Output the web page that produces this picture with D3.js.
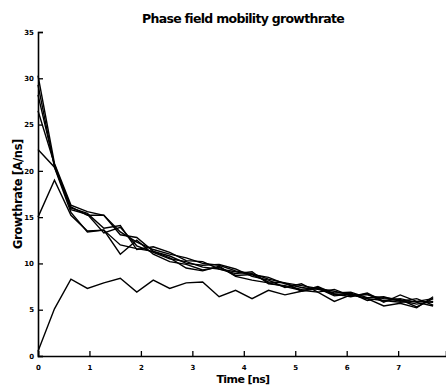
<!DOCTYPE html>
<html>
<head>
<meta charset="utf-8">
<script src="https://cdn.jsdelivr.net/npm/d3@7"></script>
<style>
  html, body { margin: 0; padding: 0; background: #fff; }
  svg { display: block; }
  text { font-family: "DejaVu Sans", sans-serif; fill: #000; }
</style>
</head>
<body>
<svg id="chart" width="446" height="385"></svg>
<script>
const times = [0, 0.32, 0.64, 0.96, 1.28, 1.6, 1.92, 2.24, 2.56, 2.88, 3.2, 3.52, 3.84, 4.16, 4.48, 4.8, 5.12, 5.44, 5.76, 6.08, 6.4, 6.72, 7.04, 7.36, 7.68];
const seriesA = [30.3, 20.8, 16.3, 15.6, 15.2, 13.4, 12.3, 11.5, 11.0, 10.6, 10.0, 9.8, 9.2, 8.9, 8.3, 7.9, 7.6, 7.3, 7.0, 6.6, 6.6, 6.2, 6.0, 5.6, 5.9];
const seriesB = [29.3, 20.4, 16.0, 15.4, 13.8, 14.1, 11.5, 11.8, 11.2, 10.3, 10.2, 9.4, 9.1, 8.8, 8.5, 7.8, 7.4, 7.2, 6.8, 6.9, 6.3, 6.4, 5.9, 6.2, 5.5];
const seriesC = [28.2, 20.6, 16.1, 15.2, 15.2, 13.1, 12.8, 11.3, 10.8, 10.0, 9.8, 9.9, 9.4, 8.6, 8.2, 7.4, 7.8, 6.9, 7.2, 6.5, 6.7, 5.8, 6.6, 5.9, 5.8];
const seriesD = [26.5, 20.7, 15.8, 15.3, 13.3, 13.9, 11.9, 11.2, 10.5, 10.2, 9.6, 9.4, 8.9, 9.1, 7.8, 7.6, 7.2, 7.4, 6.6, 6.8, 6.0, 6.3, 6.1, 5.3, 6.2];
const seriesE = [22.3, 20.4, 15.5, 13.4, 13.6, 11.0, 12.5, 11.0, 10.2, 9.9, 9.3, 9.6, 8.7, 8.8, 8.0, 7.9, 7.0, 7.5, 6.7, 6.4, 6.8, 5.9, 6.2, 5.8, 5.4];
const seriesF = [15.0, 19.0, 15.2, 13.5, 13.6, 12.0, 11.6, 11.3, 10.6, 9.5, 9.2, 9.7, 8.6, 8.2, 7.9, 7.5, 7.1, 6.9, 5.9, 6.6, 6.2, 5.4, 5.7, 5.2, 6.4];
const seriesG = [0.5, 5.1, 8.3, 7.3, 7.9, 8.4, 6.9, 8.2, 7.3, 7.9, 8.0, 6.4, 7.1, 6.2, 7.1, 6.6, 7.0, 7.3, 6.5, 6.7, 6.2, 6.0, 5.8, 5.9, 6.2];
const xTicks = [0, 1, 2, 3, 4, 5, 6, 7];
const yTicks = [0, 5, 10, 15, 20, 25, 30, 35];
const titleText = "Phase field mobility growthrate";
const xLabel = "Time [ns]";
const yLabel = "Growthrate [A/ns]";

const allSeries = [seriesA, seriesB, seriesC, seriesD, seriesE, seriesF, seriesG];

const svg = d3.select("#chart");
const x = d3.scaleLinear().domain([0, 7.93]).range([38, 446]);
const y = d3.scaleLinear().domain([0, 35]).range([356, 32]);

// axes (ticks pointing inward)
const xAxis = d3.axisBottom(x).tickValues(xTicks).tickSize(-5).tickPadding(9).tickFormat(d3.format("d"));
const yAxis = d3.axisLeft(y).tickValues(yTicks).tickSize(-5).tickPadding(4).tickFormat(d3.format("d"));

const gx = svg.append("g").attr("transform", "translate(0,356)").call(xAxis);
const gy = svg.append("g").attr("transform", "translate(38,0)").call(yAxis);
[gx, gy].forEach(g => {
  g.select(".domain").attr("stroke", "#000").attr("stroke-width", 1.6);
  g.selectAll(".tick line").attr("stroke", "#000").attr("stroke-width", 1.3);
  g.selectAll(".tick text").attr("font-size", 7).attr("font-weight", "bold").attr("fill", "#000")
    .attr("font-family", "DejaVu Sans, sans-serif");
});

// lines
const line = d3.line().x((d, i) => x(times[i])).y(d => y(d));
svg.append("g").selectAll("path").data(allSeries).join("path")
  .attr("d", line)
  .attr("fill", "none")
  .attr("stroke", "#000")
  .attr("stroke-width", 1.4)
  .attr("stroke-linejoin", "miter");

// title and labels
svg.append("text").attr("x", 243).attr("y", 23).attr("text-anchor", "middle")
  .attr("font-size", 12.5).attr("font-weight", "bold").attr("letter-spacing", -0.7).text(titleText);
svg.append("text").attr("x", 243).attr("y", 383).attr("text-anchor", "middle")
  .attr("font-size", 11).attr("font-weight", "bold").attr("letter-spacing", -0.6).text(xLabel);
svg.append("text").attr("transform", "translate(22,194) rotate(-90)").attr("text-anchor", "middle")
  .attr("font-size", 11.5).attr("font-weight", "bold").attr("letter-spacing", -0.4).text(yLabel);
</script>
</body>
</html>
